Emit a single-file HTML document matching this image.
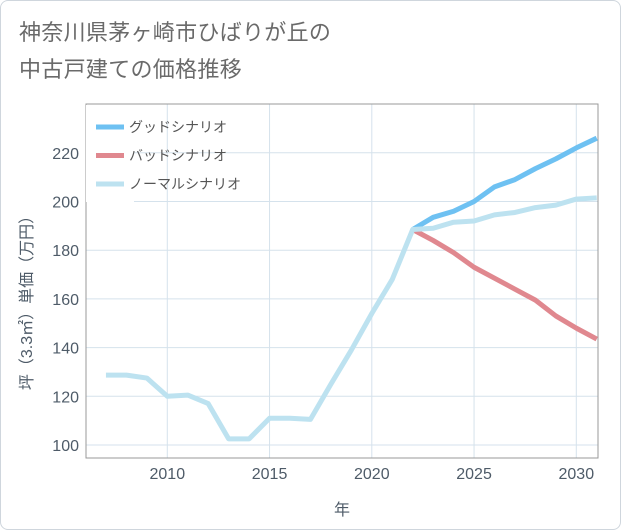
<!DOCTYPE html>
<html><head><meta charset="utf-8"><style>
body{margin:0;background:#fff;}
#card{position:absolute;left:0;top:0;width:619px;height:528px;border:1px solid #cfd6dd;border-radius:8px;background:#fff;overflow:hidden;font-family:"Liberation Sans","Noto Sans CJK JP",sans-serif;}
.t{position:absolute;left:18px;font-size:22px;color:#6a6a6a;letter-spacing:0.3px;}
</style></head><body>
<div id="card">
<div class="t" style="top:14px">神奈川県茅ヶ崎市ひばりが丘の</div>
<div class="t" style="top:51px">中古戸建ての価格推移</div>
<svg id="chart" width="621" height="530" style="position:absolute;left:0;top:0"></svg>
</div>
<script>
const years=[2007,2008,2009,2010,2011,2012,2013,2014,2015,2016,2017,2018,2019,2020,2021,2022,2023,2024,2025,2026,2027,2028,2029,2030,2031];
const normalVals=[128.7,128.7,127.5,120,120.5,117,102.5,102.5,111,111,110.5,125,139,154,168,188.5,189,191.5,192,194.5,195.5,197.5,198.5,201,201.5];
const futureYears=[2022,2023,2024,2025,2026,2027,2028,2029,2030,2031];
const goodVals=[188.5,193.5,196,200,206,209,213.5,217.5,222,226];
const badVals=[188.5,184,179,173,168.5,164,159.5,153,148,143.5];
const xTicks=[2010,2015,2020,2025,2030];
const yTicks=[100,120,140,160,180,200,220];
const legendLabels=["グッドシナリオ","バッドシナリオ","ノーマルシナリオ"];
const legendColors=["#6ec1f2","#e0888f","#bde2f0"];

const L=85,R=597,T=103,B=457;
const x=v=>166.3+(v-2010)*20.45;
const y=v=>444-(v-100)*2.435;
const svg=document.getElementById('chart');
const NS='http://www.w3.org/2000/svg';
function mk(tag,attrs){const e=document.createElementNS(NS,tag);for(const k in attrs)e.setAttribute(k,attrs[k]);svg.appendChild(e);return e;}

const bg=mk('rect',{x:L,y:T,width:R-L,height:B-T,fill:'#fff'});


xTicks.forEach(t=>{
  const g=mk('line',{x1:x(t),x2:x(t),y1:T,y2:B,stroke:'#d5e2ec','stroke-width':1});
  
  
  const tx=mk('text',{x:x(t),y:478,'text-anchor':'middle','font-size':16,fill:'#4e5b68'});
  tx.textContent=t;
  
  
});
yTicks.forEach(t=>{
  const g=mk('line',{x1:L,x2:R,y1:y(t),y2:y(t),stroke:'#d5e2ec','stroke-width':1});
  
  
  const tx=mk('text',{x:78,y:y(t)+6,'text-anchor':'end','font-size':16,fill:'#4e5b68'});
  tx.textContent=t;
  
  
});
const fr=mk('rect',{x:L,y:T,width:R-L,height:B-T,fill:'none',stroke:'#999','stroke-width':1});



const lb=mk('rect',{x:L,y:T+1,width:48,height:97,fill:'#fff'});



function line(xs,vs,color,name){
  const p=mk('polyline',{points:xs.map((t,i)=>x(t)+','+y(vs[i])).join(' '),fill:'none',stroke:color,'stroke-width':5,'stroke-linejoin':'round'});
  
  
}
line(futureYears,badVals,legendColors[1],'bad-scenario-line');
line(futureYears,goodVals,legendColors[0],'good-scenario-line');
line(years,normalVals,legendColors[2],'normal-scenario-line');

legendLabels.forEach((lab,i)=>{
  const ly=126+i*28.5;
  const s=mk('line',{x1:95,x2:123,y1:ly,y2:ly,stroke:legendColors[i],'stroke-width':5});
  
  
  const t=mk('text',{x:128,y:ly+5,'font-size':14,fill:'#555'});
  t.textContent=lab;
  
  
});

const xt=mk('text',{x:(L+R)/2,y:514,'text-anchor':'middle','font-size':16,fill:'#4e5b68'});
xt.textContent='年';


const yt=mk('text',{x:0,y:0,'text-anchor':'middle','font-size':16,fill:'#4e5b68',transform:'translate(31,298) rotate(-90)'});
yt.textContent='坪（3.3㎡）単価（万円）';


</script>
</body></html>
